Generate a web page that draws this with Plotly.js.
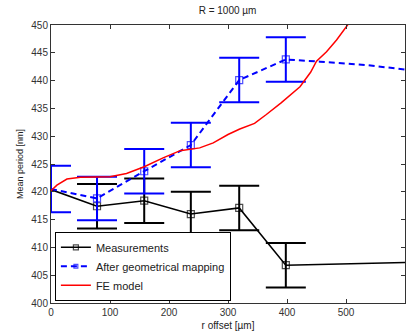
<!DOCTYPE html>
<html><head><meta charset="utf-8">
<script src="https://cdn.plot.ly/plotly-3.0.1.min.js"></script>
<style>html,body{margin:0;padding:0;background:#fff}#c{width:410px;height:336px}</style>
</head><body><div id="c"></div>
<script>
var measX = [0, 78, 158, 237, 319, 398, 600];
var measY = [420.4, 417.4, 418.4, 416.0, 417.1, 406.8, 407.3];
var measErr = [0, 4, 4, 4, 4, 4, 0];
var measMarker = [0, 7, 7, 7, 7, 7, 0];

var mapX = [0, 78, 158, 237, 319, 398, 456, 534, 600];
var mapY = [420.5, 418.8, 423.7, 428.4, 440.1, 443.8, 443.4, 442.8, 442.0];
var mapErr = [4.2, 3.9, 4.0, 4.0, 4.0, 4.0, 0, 0, 0];
var mapMarker = [0, 7, 7, 7, 7, 7, 0, 0, 0];

var feX = [0, 10, 27, 50, 100, 128, 158, 190, 219, 252, 275, 300, 320, 345, 365, 390, 422, 440, 450, 467, 484, 503, 520];
var feY = [420.2, 421.2, 422.3, 422.6, 422.7, 423.3, 424.5, 426.1, 427.4, 427.9, 428.8, 430.3, 431.3, 432.3, 433.9, 436.0, 438.9, 441.5, 443.5, 445.2, 447.3, 450.0, 452.5];

var xTicks = [0, 100, 200, 300, 400, 500, 600];
var yTicks = [400, 405, 410, 415, 420, 425, 430, 435, 440, 445, 450];

function errTrace(xs, ys, es, color) {
  var idx = [];
  es.forEach(function (e, i) { if (e > 0) idx.push(i); });
  return {
    x: idx.map(function (i) { return xs[i]; }),
    y: idx.map(function (i) { return ys[i]; }),
    mode: 'markers', showlegend: false, hoverinfo: 'skip',
    marker: {size: 2, color: 'rgba(0,0,0,0)'},
    error_y: {type: 'data', array: idx.map(function (i) { return es[i]; }),
              visible: true, color: color, thickness: 2, width: 20}
  };
}

var traces = [
  {x: measX, y: measY, name: 'Measurements', mode: 'lines+markers',
   line: {color: '#000', width: 1.5},
   marker: {symbol: 'square-open', size: measMarker, color: '#000', line: {width: 1.2, color: '#000'}}},
  errTrace(measX, measY, measErr, '#000'),
  {x: mapX, y: mapY, name: 'After geometrical mapping', mode: 'lines+markers',
   line: {color: '#0000ff', width: 2, dash: '6px,4px'},
   marker: {symbol: 'square-open', size: mapMarker, color: '#0000ff', line: {width: 1.2, color: '#0000ff'}}},
  errTrace(mapX, mapY, mapErr, '#0000ff'),
  {x: feX, y: feY, name: 'FE model', mode: 'lines',
   line: {color: '#ff0000', width: 1.5}}
];

var layout = {
  width: 410, height: 336,
  margin: {l: 51, r: 5, t: 25, b: 33},
  paper_bgcolor: '#fff', plot_bgcolor: '#fff',
  font: {family: 'Liberation Sans, Arial, sans-serif', size: 10, color: '#333'},
  title: {text: 'R = 1000 µm', font: {size: 10, color: '#222'}, x: 0.555, xanchor: 'center', y: 0.97, yanchor: 'middle'},
  showlegend: true,
  legend: {x: 0.011, y: 0.008, xanchor: 'left', yanchor: 'bottom', bgcolor: '#fff',
           bordercolor: '#000', borderwidth: 1, font: {size: 11, color: '#222'},
           tracegroupgap: 0, itemwidth: 30},
  xaxis: {range: [0, 600], tickvals: xTicks, ticktext: xTicks.map(String),
          ticks: 'inside', ticklen: 4, tickcolor: '#333', showline: true, linecolor: '#333', linewidth: 1,
          mirror: 'ticks', showgrid: false, zeroline: false,
          title: {text: 'r offset [µm]', font: {size: 10, color: '#222'}, standoff: 4},
          tickfont: {size: 10, color: '#333'}},
  yaxis: {range: [400, 450], tickvals: yTicks, ticktext: yTicks.map(String),
          ticks: 'inside', ticklen: 4, tickcolor: '#333', showline: true, linecolor: '#333', linewidth: 1,
          mirror: 'ticks', showgrid: false, zeroline: false,
          title: {text: 'Mean period [nm]', font: {size: 9, color: '#222'}, standoff: 6},
          tickfont: {size: 10, color: '#333'}}
};

Plotly.newPlot('c', traces, layout, {displayModeBar: false, staticPlot: true});
</script></body></html>
